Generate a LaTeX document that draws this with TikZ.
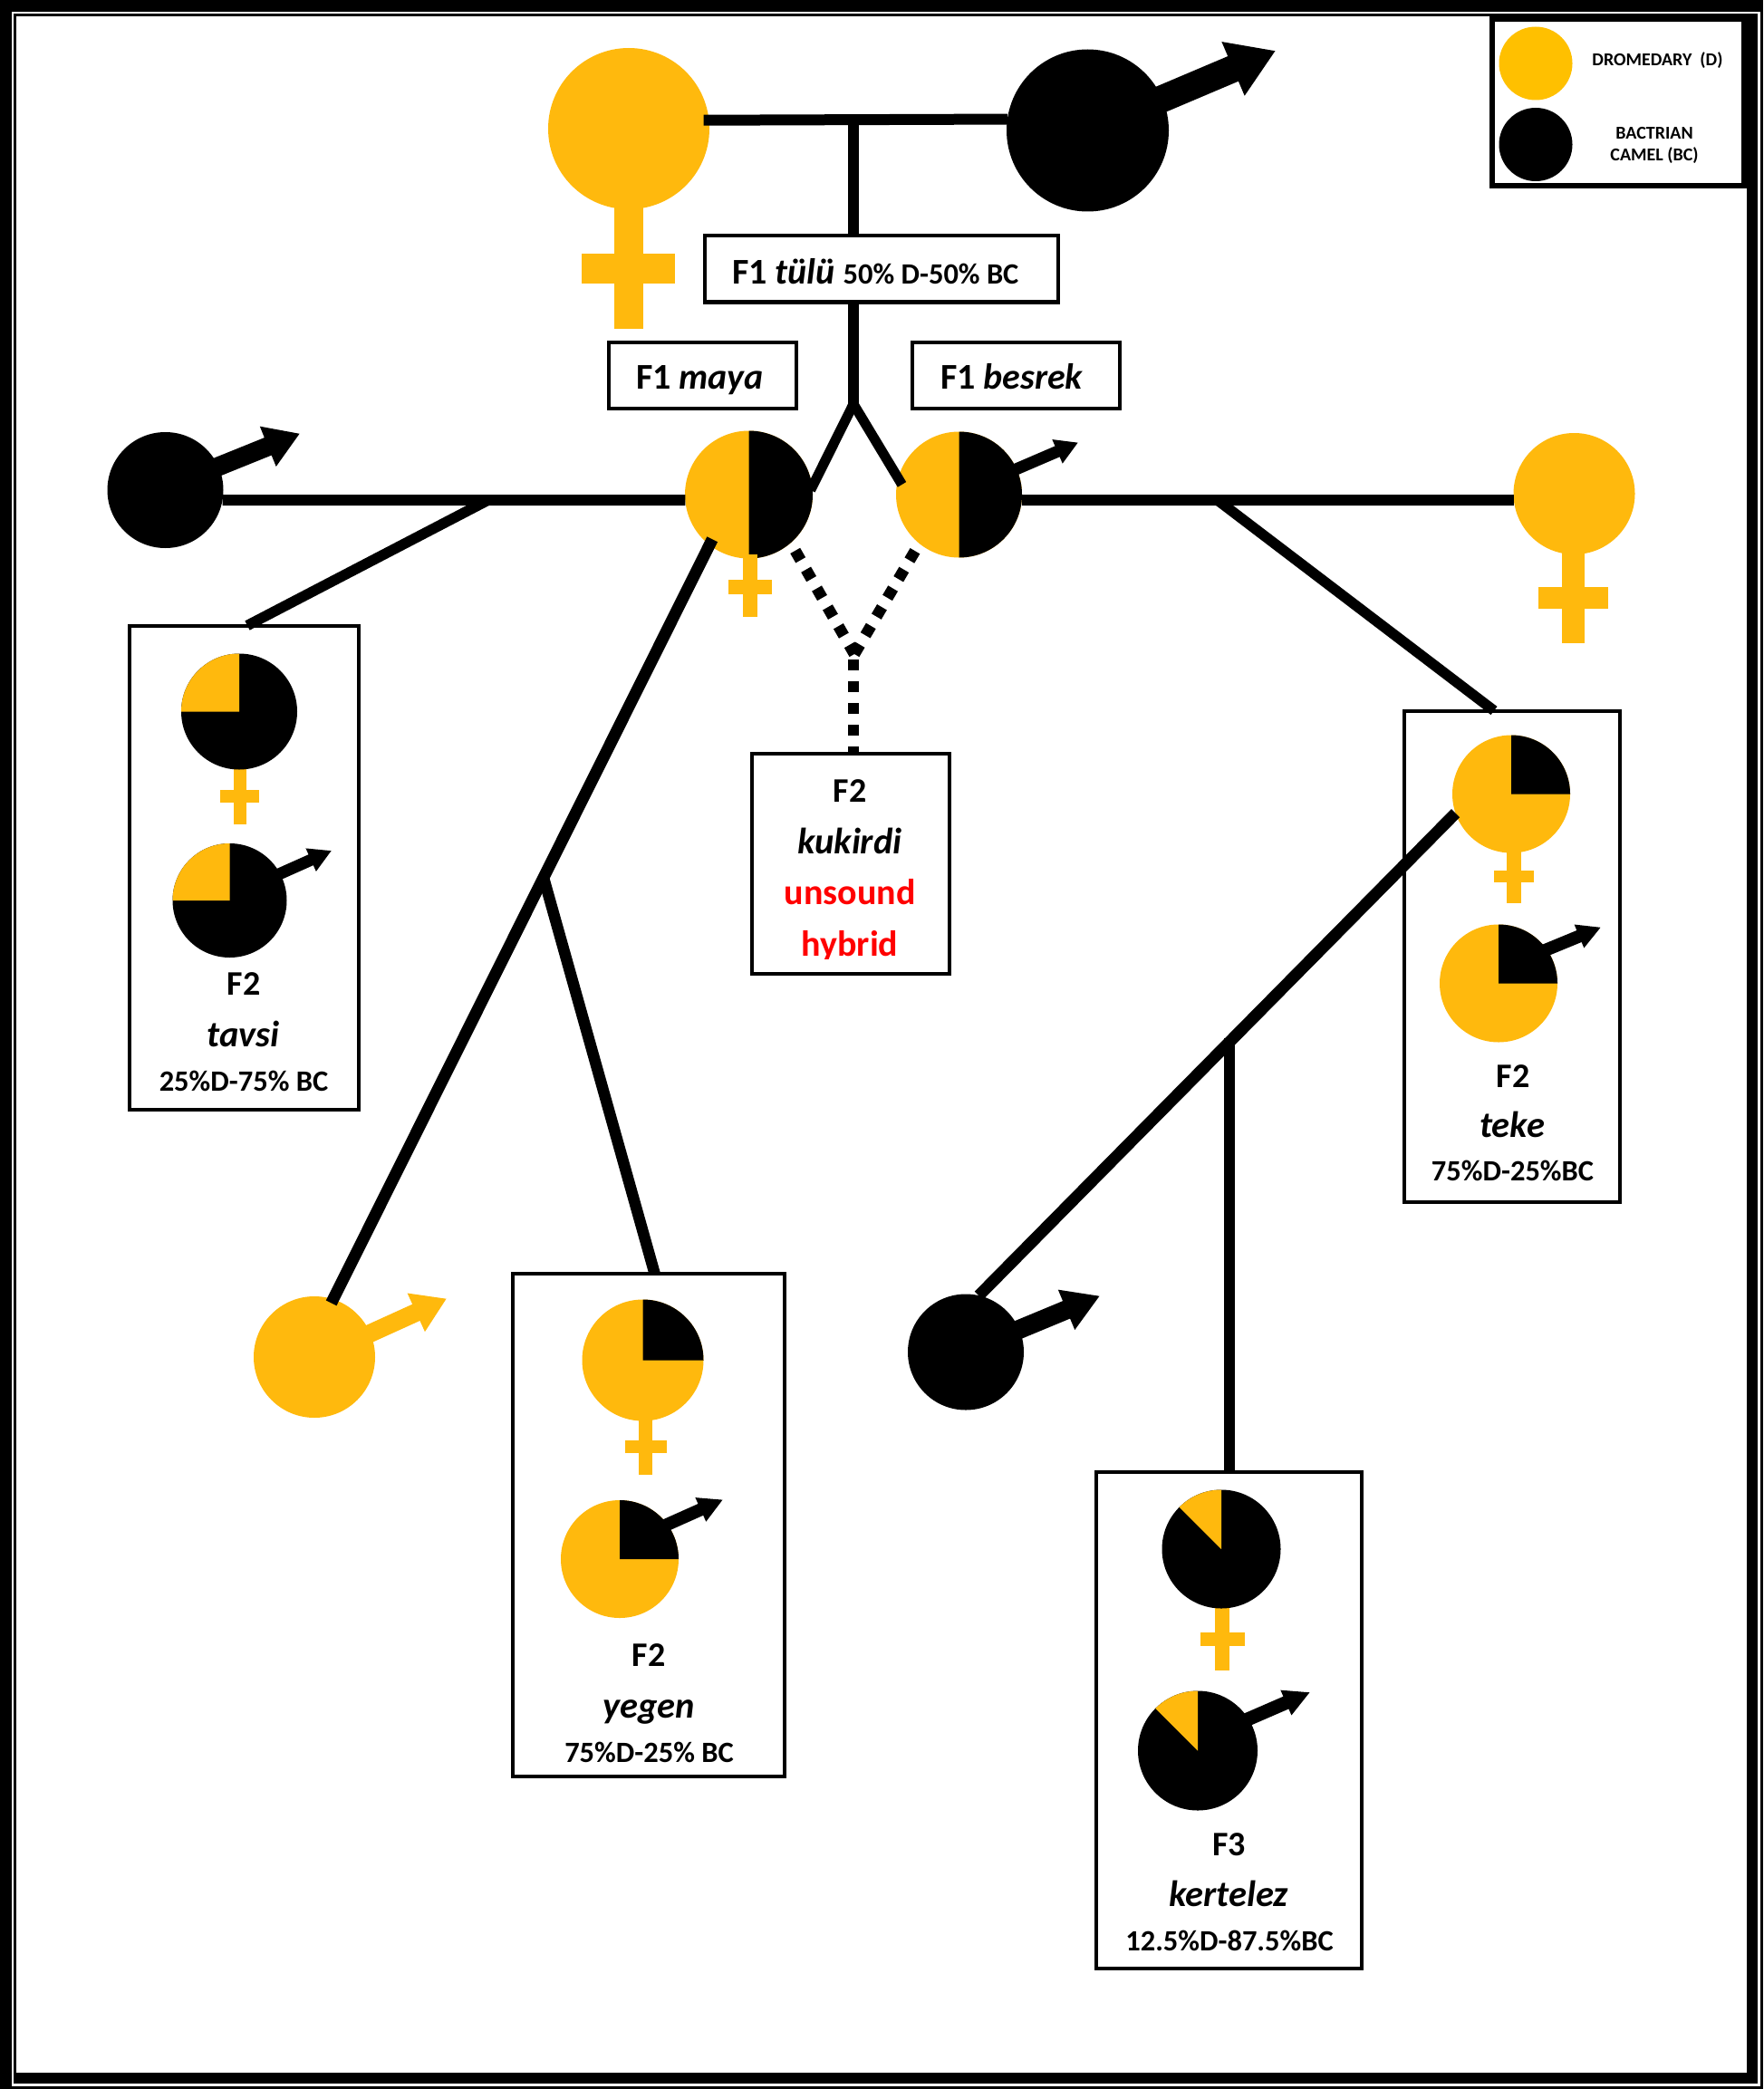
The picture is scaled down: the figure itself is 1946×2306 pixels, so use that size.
\documentclass[tikz,border=0pt]{standalone}
\usepackage{fontspec}
\setmainfont{Carlito}
\usetikzlibrary{arrows.meta}
\definecolor{org}{HTML}{FFB90D}
\definecolor{legorg}{HTML}{FFC000}
\definecolor{ink}{HTML}{000000}
\definecolor{redtxt}{HTML}{FF0000}
\newcommand{\fsz}[1]{\fontsize{#1}{#1}\selectfont}
\newcommand{\piecut}[5]{\fill[#1] (#2.center) -- ++(#4:#3pt) arc[start angle=#4,end angle=#5,radius=#3pt] -- cycle;}
\tikzset{
  bub/.style={circle,inner sep=0pt,outer sep=0pt,draw=none},
  labelbox/.style={rectangle,draw=ink,line width=4pt,fill=white,inner sep=0pt,outer sep=0pt},
  lnk/.style={draw=ink,line width=12pt,line cap=butt},
  dotlnk/.style={draw=ink,line width=12.5pt,line cap=butt,dash pattern=on 12pt off 12pt},
  txt/.style={anchor=base,inner sep=0pt,outer sep=0pt,font=\bfseries,text=ink},
  txtl/.style={anchor=base west,inner sep=0pt,outer sep=0pt,font=\bfseries,text=ink},
  maleptr/.style n args={3}{line width=#1pt,line cap=butt,shorten <=-6pt,-{Triangle[length=#2pt,width=#3pt]}},
}
\begin{document}
\begin{tikzpicture}[x=1pt,y=-1pt]
\useasboundingbox (0,0) rectangle (1946,2306);
% frame
\fill[ink] (0,0) rectangle (1946,2306);
\fill[white] (13,13) rectangle (1942.7,2302.5);
\fill[ink] (15,15) rectangle (1940.3,2300);
\fill[white] (17.7,17.7) rectangle (1928,2288);
% legend
\fill[ink] (1644,15) rectangle (1928,208);
\fill[white] (1650,24) rectangle (1922,202);
\node[bub,fill=legorg,minimum size=81pt] (legD) at (1695,70) {};
\node[bub,fill=ink,minimum size=81pt] (legB) at (1695,159.5) {};
\node[txt] (legDt) at (1829.5,73) {\fsz{20}DROMEDARY\ \ (D)};
\node[txt] (legBt) at (1826,153.5) {\fsz{20}BACTRIAN};
\node[txt] (legCt) at (1826,178) {\fsz{20}CAMEL (BC)};
% label boxes
\node[labelbox,minimum width=390pt,minimum height=73pt] (tulu) at (972.5,297) {};
\node[labelbox,minimum width=207pt,minimum height=73pt] (mayab) at (775,414) {};
\node[labelbox,minimum width=229pt,minimum height=73pt] (besb) at (1121,414) {};
\node[labelbox,minimum width=253pt,minimum height=534pt] (tavsi) at (269,957.5) {};
\node[labelbox,minimum width=218pt,minimum height=243pt] (kuk) at (938.5,953) {};
\node[labelbox,minimum width=238.5pt,minimum height=542pt] (teke) at (1669,1055.5) {};
\node[labelbox,minimum width=300pt,minimum height=555pt] (yegen) at (715.5,1683) {};
\node[labelbox,minimum width=293pt,minimum height=548pt] (kert) at (1356,1898.5) {};
% parents
\fill[org] (678,220) rectangle (710,363);
\fill[org] (642,280) rectangle (745,313);
\node[bub,fill=org,minimum size=178pt] (fTop) at (694,142) {};
\node[bub,fill=ink,minimum size=179pt] (mTop) at (1200.5,144) {};
\coordinate (mTopTip) at (1408,56);
\draw[ink,maleptr={30}{51}{61}] (mTop.23.5) -- (mTopTip);
% F1
\node[bub,fill=org,minimum size=141pt] (maya) at (826.5,546) {};
\piecut{ink}{maya}{70.5}{90}{-90}
\fill[org] (820,612) rectangle (836,680.5);
\fill[org] (804,640) rectangle (852,656);
\node[bub,fill=org,minimum size=139pt] (besrek) at (1058.5,546) {};
\piecut{ink}{besrek}{69.5}{90}{-90}
\coordinate (besTip) at (1190,488.5);
\draw[ink,maleptr={13}{25}{27}] (besrek.24) -- (besTip);
% mates
\node[bub,fill=ink,minimum size=128pt] (mLeft) at (182.5,541) {};
\coordinate (mLeftTip) at (331,478.6);
\draw[ink,maleptr={21}{38}{45}] (mLeft.24) -- (mLeftTip);
\fill[org] (1724,600) rectangle (1749,710);
\fill[org] (1698,648) rectangle (1775,672);
\node[bub,fill=org,minimum size=134pt] (fRight) at (1737.5,545) {};
\node[bub,fill=org,minimum size=134pt] (mOr) at (347,1498) {};
\coordinate (mOrTip) at (493,1433.5);
\draw[org,maleptr={20}{37}{44}] (mOr.23) -- (mOrTip);
\node[bub,fill=ink,minimum size=128pt] (mBlack) at (1066,1492.5) {};
\coordinate (mBlackTip) at (1214,1430.5);
\draw[ink,maleptr={21}{40}{45}] (mBlack.23) -- (mBlackTip);
% tavsi symbols
\fill[org] (257.6,845) rectangle (272,910);
\fill[org] (243,872) rectangle (286,886);
\node[bub,fill=ink,minimum size=128pt] (tavF) at (264,785.5) {};
\piecut{org}{tavF}{64}{90}{180}
\node[bub,fill=ink,minimum size=126pt] (tavM) at (253.5,994) {};
\piecut{org}{tavM}{63}{90}{180}
\coordinate (tavTip) at (366,939);
\draw[ink,maleptr={13}{25}{26}] (tavM.28) -- (tavTip);
% teke symbols
\fill[org] (1663,930) rectangle (1678.5,997);
\fill[org] (1649,961) rectangle (1693,974);
\node[bub,fill=org,minimum size=130pt] (tekF) at (1668,876.5) {};
\piecut{ink}{tekF}{65}{90}{0}
\node[bub,fill=org,minimum size=130pt] (tekM) at (1654,1085.5) {};
\piecut{ink}{tekM}{65}{90}{0}
\coordinate (tekTip) at (1767,1023.6);
\draw[ink,maleptr={14}{26}{26}] (tekM.35) -- (tekTip);
% yegen symbols
\fill[org] (705,1560) rectangle (720,1628);
\fill[org] (689.7,1589.6) rectangle (735.7,1604);
\node[bub,fill=org,minimum size=134pt] (yegF) at (709.5,1501.5) {};
\piecut{ink}{yegF}{67}{90}{0}
\node[bub,fill=org,minimum size=130pt] (yegM) at (684,1721) {};
\piecut{ink}{yegM}{65}{90}{0}
\coordinate (yegTip) at (798,1655.4);
\draw[ink,maleptr={14}{27}{27}] (yegM.36) -- (yegTip);
% kertelez symbols
\fill[org] (1341,1770) rectangle (1357,1844);
\fill[org] (1325,1802) rectangle (1374,1817);
\node[bub,fill=ink,minimum size=131pt] (kerF) at (1348,1710) {};
\piecut{org}{kerF}{65.5}{90}{135}
\node[bub,fill=ink,minimum size=132pt] (kerM) at (1322,1932.5) {};
\piecut{org}{kerM}{66}{90}{135}
\coordinate (kerTip) at (1446,1868);
\draw[ink,maleptr={15}{29}{28}] (kerM.32.3) -- (kerTip);
% junctions
\coordinate (jT) at (942,132);
\coordinate (jY) at (942,446);
\coordinate (jL) at (537,553);
\coordinate (jLL) at (600,969);
\coordinate (jR) at (1345,553);
\coordinate (jK) at (1357,1146);
\coordinate (jD) at (943,722);
\coordinate (jV) at (942,728);
% connectors
\draw[lnk,shorten <=-6pt] (fTop.6.5) -- (mTop.172.3);
\draw[lnk] (jT) -- (jT |- tulu.north);
\draw[lnk] (jT |- tulu.south) -- (jY);
\draw[lnk,line width=11pt,shorten >=-4pt] (jY) -- (maya.7);
\draw[lnk,line width=11pt,shorten >=-8pt] (jY) -- (besrek.165);
\draw[lnk] (mLeft.-10.8) -- (maya.185.7);
\draw[lnk] (besrek.-5.7) -- (fRight.186.4);
\draw[lnk,line width=11.5pt] (jL) -- ([xshift=4pt]tavsi.north);
\draw[lnk,line width=13pt,shorten <=-7pt,shorten >=-4.6pt] (maya.232) -- (mOr.72.3);
\draw[lnk,line width=12.5pt] (jLL) -- ([xshift=7pt]yegen.north);
\draw[lnk,line width=11.5pt] (jR) -- ([xshift=-20pt]teke.north);
\draw[lnk,line width=13pt] (tekF.199.5) -- (mBlack.77);
\draw[lnk] (jK) -- (jK |- kert.north);
\draw[dotlnk,shorten <=10pt] (maya.-49) -- (jD);
\draw[dotlnk,shorten <=9.5pt] (besrek.231) -- (jD);
\draw[dotlnk] (jV) -- (jV |- kuk.north);
% texts
\node[txtl] (tuluT) at (808,313) {\fsz{40}F1 \textit{tülü} {\fsz{32.5}50\% D-50\% BC}};
\node[txtl] (mayaT) at (702,429) {\fsz{40}F1 \textit{maya}};
\node[txtl] (besT) at (1038,429) {\fsz{40}F1 \textit{besrek}};
\node[txt] (tav1) at (269,1098) {\fsz{38}F2};
\node[txt] (tav2) at (268.5,1155.5) {\fsz{40.5}\textit{tavsi}};
\node[txt] (tav3) at (269,1204.5) {\fsz{32.5}25\%D-75\% BC};
\node[txt] (kuk1) at (938,885.7) {\fsz{38}F2};
\node[txt] (kuk2) at (938,942.5) {\fsz{40.5}\textit{kukirdi}};
\node[txt,text=redtxt] (kuk3) at (938,998.8) {\fsz{40}unsound};
\begin{scope}
\clip (880,1010) rectangle (1000,1058);
\node[txt,text=redtxt] (kuk4) at (938,1055.5) {\fsz{40}hybrid};
\end{scope}
\node[txt] (tek1) at (1670,1200) {\fsz{38}F2};
\node[txt] (tek2) at (1669,1255.5) {\fsz{40.5}\textit{teke}};
\node[txt] (tek3) at (1669.5,1303) {\fsz{32.5}75\%D-25\%BC};
\node[txt] (yeg1) at (716,1839.5) {\fsz{38}F2};
\node[txt] (yeg2) at (716,1896.5) {\fsz{40.5}\textit{yegen}};
\node[txt] (yeg3) at (716.5,1945) {\fsz{32.5}75\%D-25\% BC};
\node[txt] (ker1) at (1356.5,2048) {\fsz{38}F3};
\node[txt] (ker2) at (1356,2104.5) {\fsz{40.5}\textit{kertelez}};
\node[txt] (ker3) at (1357,2153) {\fsz{32.5}12.5\%D-87.5\%BC};
\end{tikzpicture}
\end{document}
